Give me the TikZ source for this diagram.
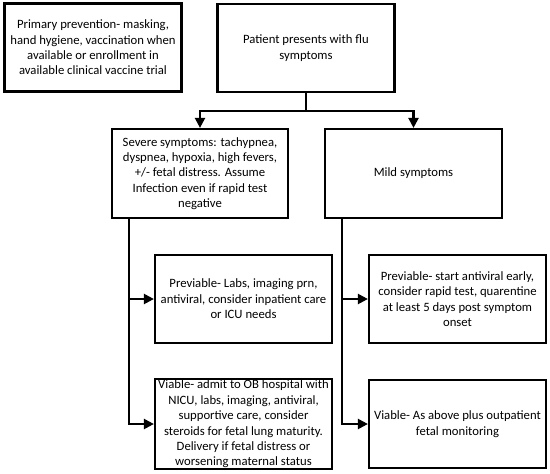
\documentclass[tikz,border=0pt]{standalone}
\usepackage{fontspec}
\setmainfont{Carlito}
\usetikzlibrary{arrows.meta}
\begin{document}
\begin{tikzpicture}[x=1pt,y=-1pt,
  box/.style={draw=black,line width=2.2pt,rectangle,minimum width=177pt,minimum height=88pt,
    align=center,inner sep=1pt,font=\fontsize{12.7}{15.4}\selectfont},
  conn/.style={line width=2.2pt},
  arr/.style={line width=2.2pt,-{Triangle[length=10pt,width=10pt]}}]
\useasboundingbox (0,0) rectangle (550,474);
\node[box] (prim) at (93,47.5) {Primary prevention- masking,\\hand hygiene, vaccination when\\available or enrollment in\\available clinical vaccine trial};
\node[box] (pat) at (306,48) {Patient presents with flu\\symptoms};
\node[box,minimum width=176pt,minimum height=89pt] (sev) at (200,173.5) {Severe symptoms: tachypnea,\\dyspnea, hypoxia, high fevers,\\+/- fetal distress. Assume\\Infection even if rapid test\\negative};
\node[box,minimum height=89pt] (mild) at (413.5,173.5) {Mild symptoms};
\node[box] (prev1) at (243.5,299) {Previable- Labs, imaging prn,\\antiviral, consider inpatient care\\or ICU needs};
\node[box] (prev2) at (457.5,299) {Previable- start antiviral early,\\consider rapid test, quarentine\\at least 5 days post symptom\\onset};
\node[box] (via1) at (243.5,424) {Viable- admit to OB hospital with\\NICU, labs, imaging, antiviral,\\supportive care, consider\\steroids for fetal lung maturity.\\Delivery if fetal distress or\\worsening maternal status};
\node[box] (via2) at (457.5,424) {Viable- As above plus outpatient\\fetal monitoring};
\coordinate (j) at (306,111);
\coordinate (sv) at (129,218);
\coordinate (mv) at (342,218);
\draw[conn] (pat.south) -- (j);
\draw[arr] (j) -| (sev.north);
\draw[arr] (j) -| (mild.north);
\draw[arr] (sv) |- (prev1.west);
\draw[arr] (sv) |- (via1.west);
\draw[arr] (mv) |- (prev2.west);
\draw[arr] (mv) |- (via2.west);
\end{tikzpicture}
\end{document}
